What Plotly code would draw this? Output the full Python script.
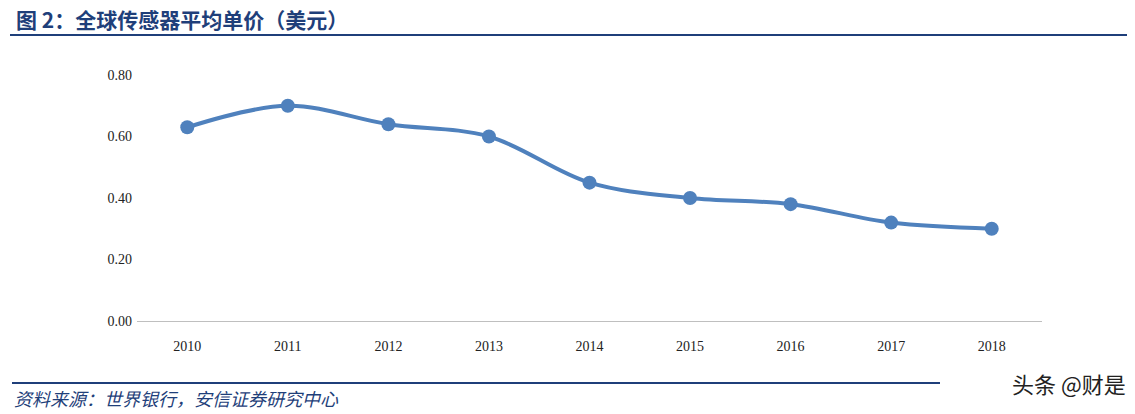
import plotly.graph_objects as go

years = ["2010", "2011", "2012", "2013", "2014", "2015", "2016", "2017", "2018"]
prices = [0.63, 0.70, 0.64, 0.60, 0.45, 0.40, 0.38, 0.32, 0.30]
y_ticks = [0.0, 0.2, 0.4, 0.6, 0.8]

navy = "#1F3F7A"
blue = "#4F81BD"

# page renders with an 8px body margin, so shift everything up/left by 8px
L, T = 129, 67
W, H = 905, 246
FW, FH = 1119, 406


def py(page_y):
    return (T + H - (page_y - 8)) / H


def px(page_x):
    return (page_x - 8 - L) / W


fig = go.Figure()
fig.add_trace(go.Scatter(
    x=years, y=prices, mode="lines+markers",
    line=dict(color=blue, width=4, shape="spline", smoothing=1.0),
    marker=dict(color=blue, size=14),
))

fig.update_layout(
    width=FW, height=FH,
    margin=dict(l=L, r=FW - L - W, t=T, b=FH - T - H),
    paper_bgcolor="white", plot_bgcolor="white",
    showlegend=False,
    font=dict(family="Liberation Serif", size=14, color="#222"),
    xaxis=dict(type="category", range=[-0.5, 8.5], showline=True,
               linecolor="#BFBFBF", linewidth=1, ticks="", showgrid=False,
               ticklabelstandoff=12),
    yaxis=dict(range=[0, 0.8], tickvals=y_ticks, tickformat=".2f",
               showgrid=False, zeroline=False, showline=False,
               ticks="", ticklen=0, ticklabelstandoff=4),
    shapes=[
        dict(type="line", xref="paper", yref="paper", x0=px(10), x1=px(1127),
             y0=py(35), y1=py(35), line=dict(color=navy, width=2)),
        dict(type="line", xref="paper", yref="paper", x0=px(12), x1=px(940),
             y0=py(383), y1=py(383), line=dict(color=navy, width=2)),
    ],
    annotations=[
        dict(text="<b>图 2：全球传感器平均单价（美元）</b>", xref="paper", yref="paper",
             x=px(14), y=py(19), xanchor="left", yanchor="middle", showarrow=False,
             font=dict(family="Noto Sans CJK SC", size=21, color=navy)),
        dict(text="<i>资料来源：世界银行，安信证券研究中心</i>", xref="paper", yref="paper",
             x=px(12), y=py(398), xanchor="left", yanchor="middle", showarrow=False,
             font=dict(family="Noto Sans CJK SC", size=18, color=navy)),
        dict(text="头条 @财是", xref="paper", yref="paper",
             x=px(1128), y=py(383), xanchor="right", yanchor="middle",
             showarrow=False, bgcolor="white",
             font=dict(family="Noto Sans CJK SC", size=22, color="#222")),
    ],
)

fig.write_html("out.html")
